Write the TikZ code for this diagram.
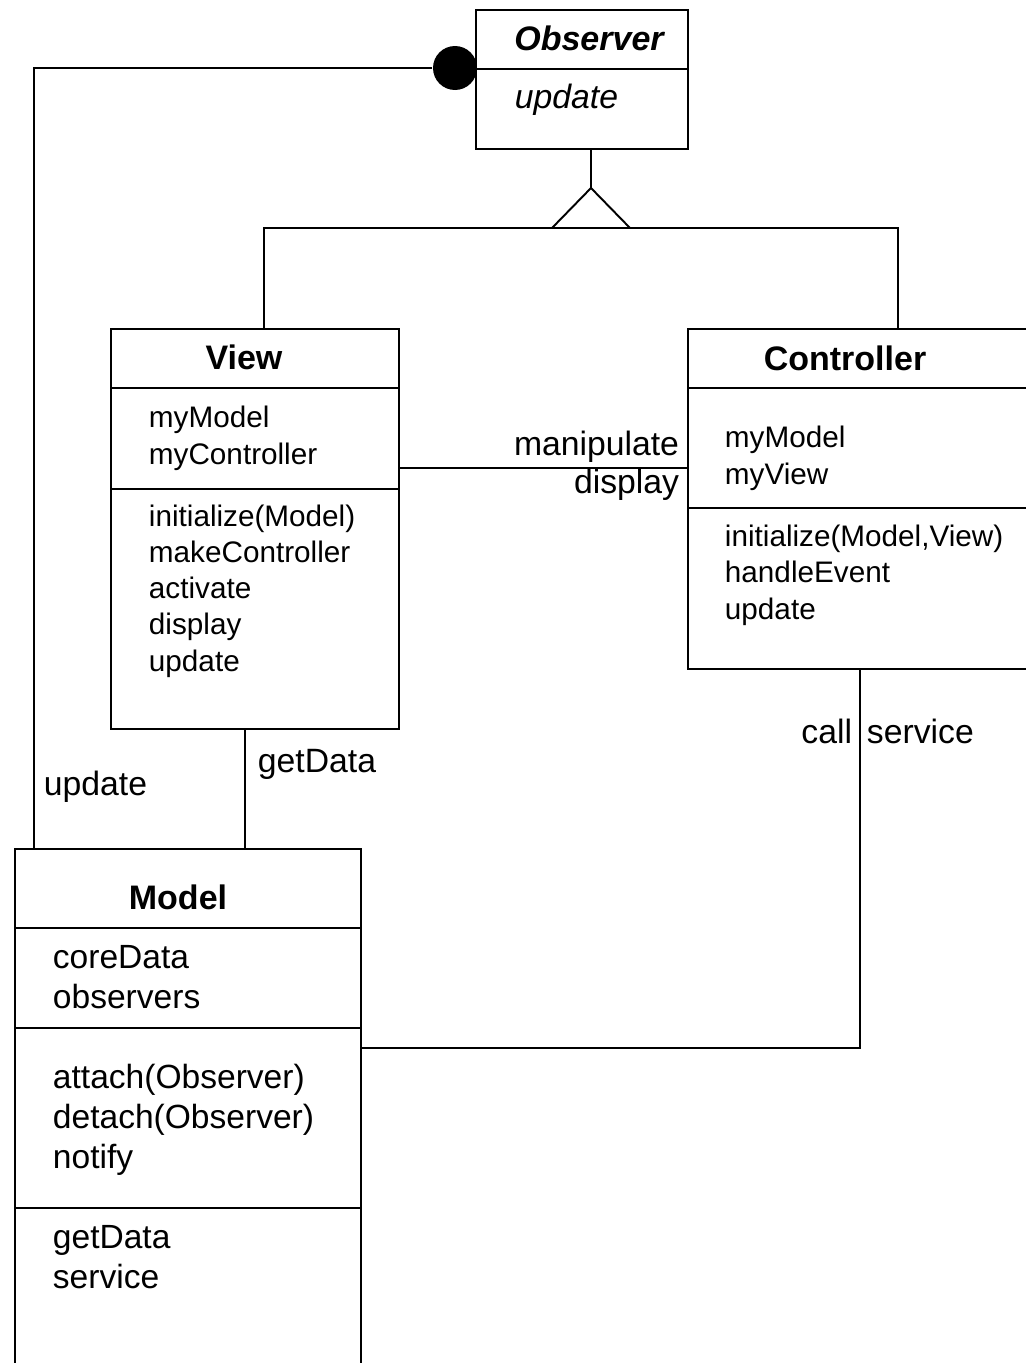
\documentclass[tikz,border=0pt]{standalone}
\usepackage{fontspec}
\setmainfont{Liberation Sans}
\usepackage{tikz}

\newcommand{\headfont}{\fontsize{19.35}{23}\selectfont\bfseries}
\newcommand{\memberfont}{\fontsize{16.9}{20.5}\selectfont}
\newcommand{\modelfont}{\fontsize{19.1}{22.7}\selectfont}
\newcommand{\linkfont}{\fontsize{19.2}{21.6}\selectfont}

\begin{document}
\begin{tikzpicture}[x=0.02cm, y=-0.02cm, line width=1.1pt,
        classbox/.style={draw, rectangle, inner sep=0pt, anchor=north west},
        classname/.style={anchor=base, inner sep=0pt, font=\headfont},
        member/.style={anchor=base west, align=left, inner sep=0pt, font=\memberfont},
        link/.style={inner sep=0pt, font=\linkfont}]

        % Frame
        \fill[white] (0,0) rectangle (1026,1363);
        \useasboundingbox (0,0) rectangle (1026,1363);
        \clip (0,0) rectangle (1026,1363);

        % Classes
        \node[classbox, minimum width=4.24cm, minimum height=2.78cm] (observer) at (475,9) {};
        \node[classbox, minimum width=5.76cm, minimum height=8cm] (view) at (110,328) {};
        \node[classbox, minimum width=7.06cm, minimum height=6.8cm] (controller) at (687,328) {};
        \node[classbox, minimum width=6.92cm, minimum height=10.8cm] (model) at (14,848) {};

        % Compartments
        \draw (observer.west |- 0,69) -- (observer.east |- 0,69);
        \draw (view.west |- 0,388) -- (view.east |- 0,388);
        \draw (view.west |- 0,489) -- (view.east |- 0,489);
        \draw (controller.west |- 0,388) -- (controller.east |- 0,388);
        \draw (controller.west |- 0,508) -- (controller.east |- 0,508);
        \draw (model.west |- 0,928) -- (model.east |- 0,928);
        \draw (model.west |- 0,1028) -- (model.east |- 0,1028);
        \draw (model.west |- 0,1208) -- (model.east |- 0,1208);

        % Class names
        \node[classname, font=\headfont\itshape] (obsname) at (589,50) {Observer};
        \node[classname] (viewname) at (244,369) {View};
        \node[classname] (ctrlname) at (845,370) {Controller};
        \node[classname] (modelname) at (178,909) {Model};

        % Members (base = baseline of the last line)
        \node[member, font=\linkfont\itshape] (obsop) at (514,108) {update};
        \node[member] (viewattr) at (148,464) {myModel\\myController};
        \node[member] (viewops) at (148,671)
            {initialize(Model)\\makeController\\activate\\display\\update};
        \node[member] (ctrlattr) at (724,484) {myModel\\myView};
        \node[member] (ctrlops) at (724,619)
            {initialize(Model,View)\\handleEvent\\update};
        \node[member, font=\modelfont] (modelattr) at (52,1008) {coreData\\observers};
        \node[member, font=\modelfont] (modelops) at (52,1168)
            {attach(Observer)\\detach(Observer)\\notify};
        \node[member, font=\modelfont] (modelget) at (52,1288) {getData\\service};

        % Generalization
        \draw (observer.south -| 591,0) -- (591,188) coordinate (apex);
        \draw (apex) -- (552,228) -- (630,228) -- cycle;
        \draw (view.north -| 264,0) -- (264,228) -- (898,228)
            -- (controller.north -| 898,0);

        % Observer ball
        \node[circle, fill, inner sep=0pt, minimum size=0.88cm] (ball) at (455,68) {};
        \draw (ball) -- (34,68) -- (model.north -| 34,0);

        % Associations
        \draw (view.east |- 0,468) -- (controller.west |- 0,468);
        \draw (view.south -| 245,0) -- (model.north -| 245,0);
        \draw (controller.south -| 860,0) |- (model.east |- 0,1048);

        % Association labels
        \node[link, anchor=base east, align=right] (manip) at (680,493) {manipulate\\display};
        \node[link, anchor=base east] (call) at (853,743) {call};
        \node[link, anchor=base west] (service) at (866,743) {service};
        \node[link, anchor=base west] (getdata) at (257,772) {getData};
        \node[link, anchor=base west] (upd) at (43,795) {update};
    \end{tikzpicture}
\end{document}
